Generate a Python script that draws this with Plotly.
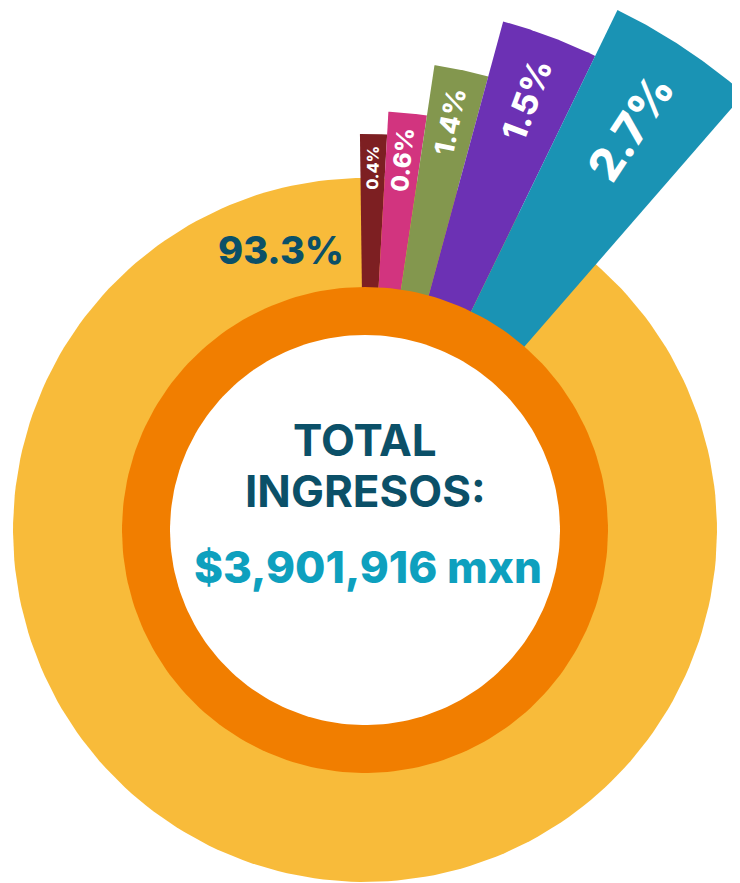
import numpy as np
import plotly.graph_objects as go

# shares of total income (percent)
shares = [93.3, 0.4, 0.6, 1.4, 1.5, 2.7]
share_labels = ["93.3%", "0.4%", "0.6%", "1.4%", "1.5%", "2.7%"]
total_label = "$3,901,916 mxn"

# colors for each share
colors = ["#F8BB3A", "#7D1F22", "#D2347F", "#83974E", "#6C31B4", "#1A93B4"]

# infographic geometry (degrees clockwise from 12 o'clock, radius in px)
SLICE_START = [-0.8, 3.2, 8.5, 15.2, 25.9]
SLICE_END = [3.2, 8.5, 15.2, 25.9, 41.0]
SLICE_OUTER = [396, 419, 470, 527, 578]
LABEL_R = [362, 372, 417, 460, 482]
LABEL_SIZE = [16, 24, 27, 34, 45]
RING_OUTER = 352
ORANGE_OUTER = 243
WHITE_R = 195

DARK = "#0B5068"
CYAN = "#0EA0BE"
FONT = "Inter"


def wedge(r_out, a0, a1, n=60):
    """Polygon of a pie wedge from the centre, angles clockwise from up"""
    a = np.radians(np.linspace(a0, a1, n))
    x = np.concatenate([[0], r_out * np.sin(a), [0]])
    y = np.concatenate([[0], r_out * np.cos(a), [0]])
    return x, y


def disk(r, n=240):
    a = np.linspace(0, 2 * np.pi, n)
    return r * np.sin(a), r * np.cos(a)


fig = go.Figure()

# big yellow ring (93.3%)
x, y = disk(RING_OUTER)
fig.add_trace(go.Scatter(x=x, y=y, fill="toself", fillcolor=colors[0],
                         mode="lines", line=dict(width=0), hoverinfo="skip"))

# the small shares stick out of the ring
for i in range(1, len(shares)):
    x, y = wedge(SLICE_OUTER[i - 1], SLICE_START[i - 1], SLICE_END[i - 1])
    fig.add_trace(go.Scatter(x=x, y=y, fill="toself", fillcolor=colors[i],
                             mode="lines", line=dict(width=0),
                             name=share_labels[i], hoverinfo="name"))

# orange ring and white centre
for r, c in [(ORANGE_OUTER, "#F17E00"), (WHITE_R, "white")]:
    x, y = disk(r)
    fig.add_trace(go.Scatter(x=x, y=y, fill="toself", fillcolor=c,
                             mode="lines", line=dict(width=0), hoverinfo="skip"))

# rotated labels inside the slices
for i in range(1, len(shares)):
    mid = (SLICE_START[i - 1] + SLICE_END[i - 1]) / 2
    r = LABEL_R[i - 1]
    fig.add_annotation(
        x=r * np.sin(np.radians(mid)), y=r * np.cos(np.radians(mid)),
        text=share_labels[i], showarrow=False, textangle=mid - 90,
        font=dict(family=FONT, size=LABEL_SIZE[i - 1], color="white", weight=800),
    )

fig.add_annotation(x=-84, y=280, text=share_labels[0], showarrow=False,
                   font=dict(family=FONT, size=38, color=DARK, weight=800))

# centre text
fig.add_annotation(x=0, y=90, text="TOTAL", showarrow=False,
                   font=dict(family=FONT, size=44, color=DARK, weight=700))
fig.add_annotation(x=0, y=39, text="INGRESOS:", showarrow=False,
                   font=dict(family=FONT, size=44, color=DARK, weight=700))
fig.add_annotation(x=3, y=-37, text=total_label, showarrow=False,
                   font=dict(family=FONT, size=44, color=CYAN, weight=800))

# page body has an 8px margin, so the figure is a bit smaller than the window
fig.update_layout(
    width=732, height=875,
    margin=dict(l=0, r=0, t=0, b=0),
    paper_bgcolor="white", plot_bgcolor="white",
    showlegend=False,
    xaxis=dict(range=[-357, 375], visible=False, fixedrange=True),
    yaxis=dict(range=[-353, 522], visible=False, fixedrange=True),
)

fig.write_html("out.html")
